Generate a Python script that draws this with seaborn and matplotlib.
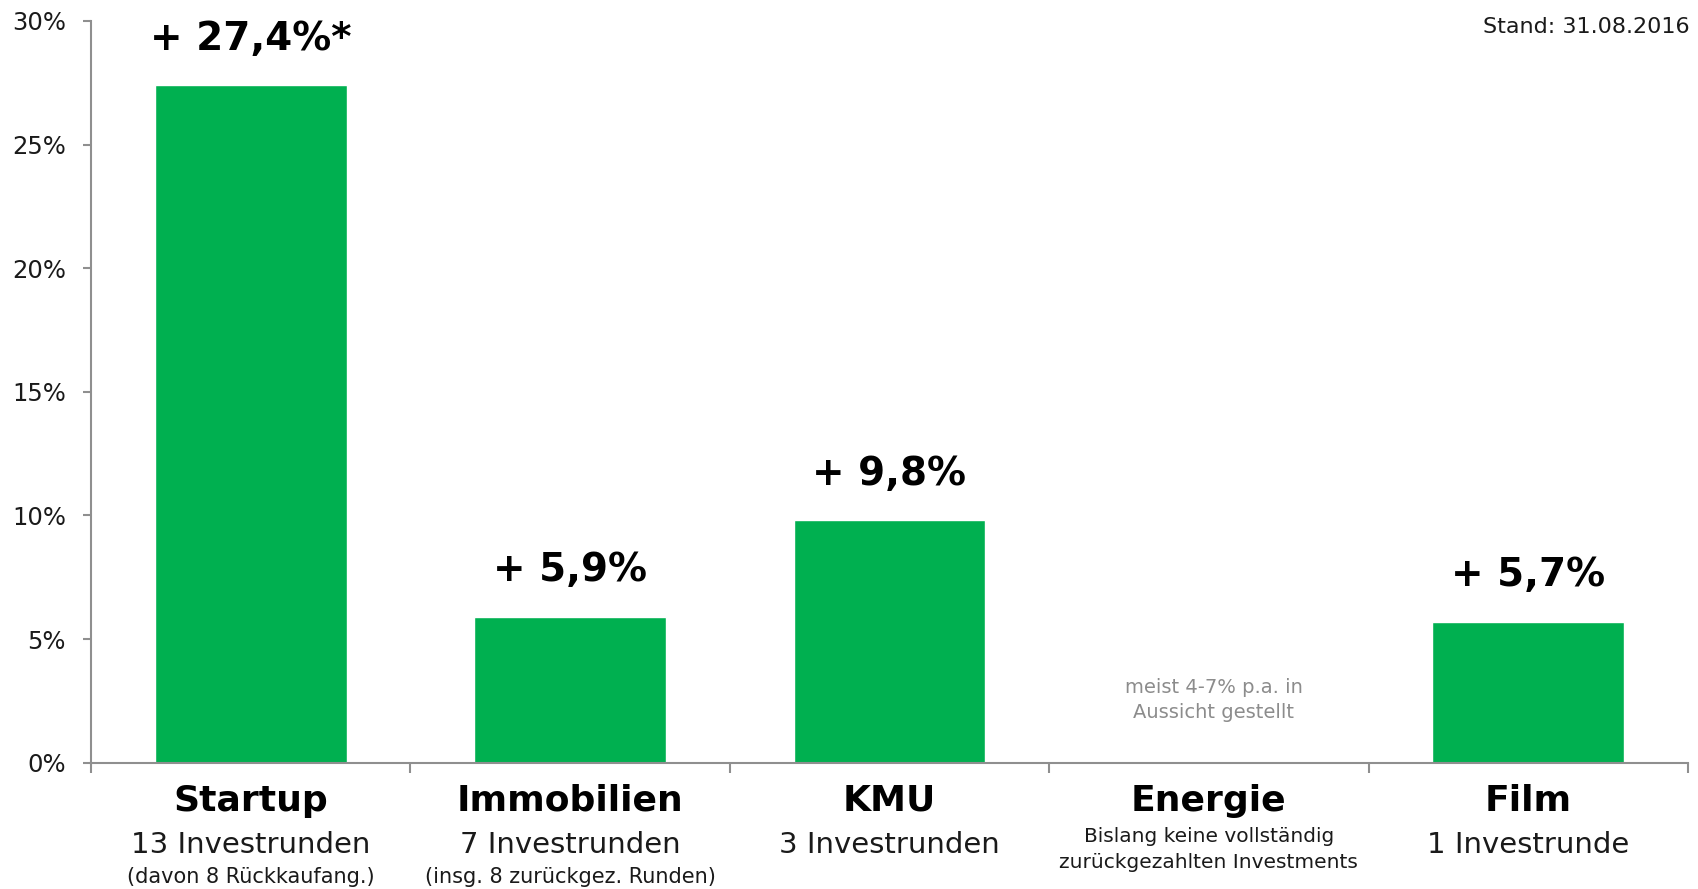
import matplotlib
matplotlib.use("Agg")
import matplotlib.pyplot as plt
import seaborn as sns
import pandas as pd
import numpy as np
from matplotlib.ticker import FuncFormatter, FixedLocator
from matplotlib.transforms import blended_transform_factory

# ---- data ----
categories = ["Startup", "Immobilien", "KMU", "Energie", "Film"]
returns = [27.4, 5.9, 9.8, np.nan, 5.7]
value_labels = ["+ 27,4%*", "+ 5,9%", "+ 9,8%", "", "+ 5,7%"]
sub_main = ["13 Investrunden", "7 Investrunden", "3 Investrunden", "", "1 Investrunde"]
sub_small = ["(davon 8 Rückkaufang.)", "(insg. 8 zurückgez. Runden)", "", "", ""]
energie_note = ["Bislang keine vollständig", "zurückgezahlten Investments"]
energie_bar_note = "meist 4-7% p.a. in\nAussicht gestellt"
y_ticks = [0, 5, 10, 15, 20, 25, 30]
stand_text = "Stand: 31.08.2016"

df = pd.DataFrame({"cat": categories, "val": returns})

sns.set_theme(style="white")
FONT = "DejaVu Sans"
plt.rcParams["font.family"] = [FONT]

W, H, DPI = 1699, 889, 100
fig = plt.figure(figsize=(W / DPI, H / DPI), dpi=DPI)
ax_left, ax_right = 91 / W, 1688 / W
ax_bottom, ax_top = (H - 762.7) / H, (H - 21) / H
ax = fig.add_axes([ax_left, ax_bottom, ax_right - ax_left, ax_top - ax_bottom])

GREEN = "#00B050"
sns.barplot(data=df, x="cat", y="val", order=categories, color=GREEN,
            saturation=1, width=0.6, ax=ax)

ax.set_xlim(-0.5, len(categories) - 0.5)
ax.set_ylim(0, 30)
ax.set_xlabel("")
ax.set_ylabel("")

# spines
for s in ["top", "right"]:
    ax.spines[s].set_visible(False)
for s in ["left", "bottom"]:
    ax.spines[s].set_color("#8f8f8f")
    ax.spines[s].set_linewidth(1.5)

# y axis
ax.yaxis.set_major_locator(FixedLocator(y_ticks))
ax.yaxis.set_major_formatter(FuncFormatter(lambda v, p: f"{int(v)}%"))
ax.tick_params(axis="y", which="major", left=True, length=6, width=1.5,
               color="#8f8f8f", labelsize=17.5, labelcolor="#1a1a1a", pad=12)

# x axis: boundaries as minor ticks, names as major labels
ax.set_xticks(range(len(categories)))
ax.set_xticklabels(categories, fontsize=26, fontweight="bold", color="#000000")
ax.tick_params(axis="x", which="major", bottom=False, length=0, pad=15)
ax.set_xticks(np.arange(-0.5, len(categories), 1.0), minor=True)
ax.tick_params(axis="x", which="minor", bottom=True, length=7, width=1.5,
               color="#8f8f8f")

# value labels
for i, (v, lab) in enumerate(zip(returns, value_labels)):
    if lab and not np.isnan(v):
        ax.annotate(lab, xy=(i, v), xytext=(0, 20), textcoords="offset points",
                    ha="center", va="bottom", fontsize=28, fontweight="bold",
                    color="#000000")

# sub labels under categories
ax_h_px = 762.7 - 21
tr = blended_transform_factory(ax.transData, ax.transAxes)
for i in range(len(categories)):
    if sub_main[i]:
        ax.text(i, -(845 - 762.7) / ax_h_px, sub_main[i], transform=tr,
                ha="center", va="center", fontsize=21, color="#1a1a1a")
    if sub_small[i]:
        ax.text(i, -(877 - 762.7) / ax_h_px, sub_small[i], transform=tr,
                ha="center", va="center", fontsize=15, color="#1a1a1a")

ei = categories.index("Energie")
ax.text(ei, -(836 - 762.7) / ax_h_px, energie_note[0], transform=tr,
        ha="center", va="center", fontsize=14.5, color="#1a1a1a")
ax.text(ei, -(862 - 762.7) / ax_h_px, energie_note[1], transform=tr,
        ha="center", va="center", fontsize=14.5, color="#1a1a1a")

# grey note inside plot for Energie
ax.text(ei + 0.015, (762.7 - 700) / ax_h_px, energie_bar_note, transform=tr,
        ha="center", va="center", fontsize=14, color="#8c8c8c",
        linespacing=1.45)

# stand
fig.text(1690 / W, 1 - 27 / H, stand_text, ha="right", va="center",
         fontsize=16, color="#1a1a1a")

fig.savefig("out.png", dpi=DPI, facecolor="white")
